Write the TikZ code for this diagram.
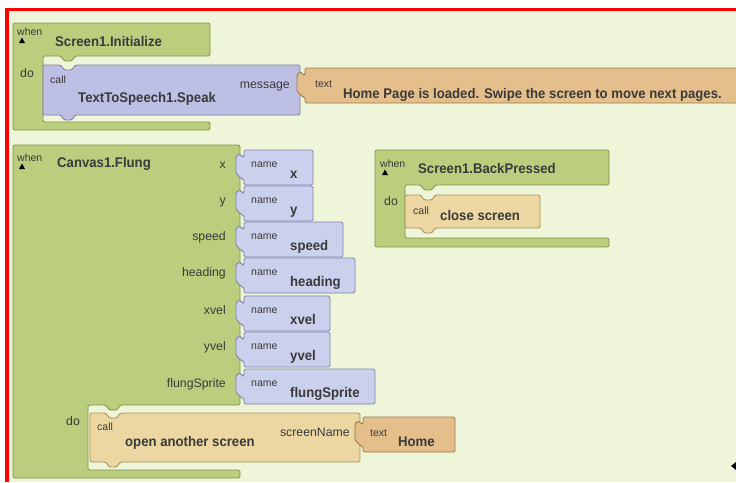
\documentclass[tikz,border=0pt]{standalone}
\usepackage{fontspec}
\setmainfont{Liberation Sans}
\newfontfamily\blkfont{Liberation Sans}[FakeStretch=0.94]
\definecolor{bgc}{HTML}{EEF5D8}
\definecolor{evt}{HTML}{BACE7E}
\definecolor{evtd}{HTML}{7E9646}
\definecolor{meth}{HTML}{BEBFE4}
\definecolor{methd}{HTML}{7D7EA6}
\definecolor{nam}{HTML}{CBD0EC}
\definecolor{namd}{HTML}{7F84A6}
\definecolor{txt}{HTML}{E4BF8C}
\definecolor{txtd}{HTML}{9C7A48}
\definecolor{ctl}{HTML}{ECD7A2}
\definecolor{ctld}{HTML}{A6915A}
\definecolor{ink}{HTML}{3A3A3A}
\newcommand\valpath[4]{(#1,#2) -- (#3,#2) -- (#3,#4) -- (#1,#4) -- (#1,{#2+29}) .. controls ({#1-4},{#2+29}) and ({#1-4},{#2+26}) .. ({#1-8},{#2+24}) -- ({#1-8},{#2+10}) .. controls ({#1-8},{#2+5}) and ({#1-4},{#2+3}) .. ({#1-2},{#2+7}) -- (#1,{#2+7}) -- cycle}
\newcommand\stmtpath[5]{(#1,#2) -- (#5,#2) -- ({#5+3},{#2+5}) -- ({#5+11},{#2+5}) -- ({#5+14},#2) -- (#3,#2) -- (#3,#4) -- ({#5+14},#4) -- ({#5+11},{#4+5}) -- ({#5+3},{#4+5}) -- (#5,#4) -- (#1,#4) -- cycle}
\tikzset{
  blk/.style={line width=0.9pt, rounded corners=1.5pt, line join=round},
  small/.style={font=\fontsize{10.5}{11}\selectfont, text=ink, inner sep=0pt},
  lbl/.style={font=\fontsize{12.3}{13}\selectfont, text=ink, inner sep=0pt},
  big/.style={font=\blkfont\bfseries\fontsize{14}{15}\selectfont, text=ink, inner sep=0pt},
  tri/.style={fill=black}
}
\begin{document}
\begin{tikzpicture}[x=1pt,y=-1pt]
\useasboundingbox (0,0) rectangle (736,482);
\fill[white] (0,0) rectangle (736,482);
\fill[bgc] (9,11) rectangle (736,482);
\fill[red] (5,8) rectangle (736,11);
\fill[red] (5,8) rectangle (9,482);

% ---------- Screen1.Initialize ----------
\filldraw[blk, fill=evt, draw=evtd] (13,23) -- (210,23) -- (210,56) -- (75,56) -- (72,61) -- (64,61) -- (61,56) -- (43,56) -- (43,122) -- (210,122) -- (210,130) -- (13,130) -- cycle;
\node[small, anchor=base west] (w1) at (17,35) {when};
\fill[tri] (19,43) -- (22,37.5) -- (25,43) -- cycle;
\node[big, anchor=base west] (e1) at (55,46) {Screen1.Initialize};
\node[lbl, anchor=base west] (d1) at (20,77) {do};
\filldraw[blk, fill=meth, draw=methd] \stmtpath{43}{65}{300}{115}{61};
\node[small, anchor=base west] (c1) at (50,83) {call};
\node[big, anchor=base west] (m1) at (78,102) {TextToSpeech1.Speak};
\node[lbl, anchor=base east] (a1) at (290,88) {message};
\filldraw[blk, fill=txt, draw=txtd] \valpath{305}{68}{738}{103};
\node[small, anchor=base west] (t1) at (315,87) {text};
\node[big, anchor=base west] (v1) at (343,98) {Home Page is loaded. Swipe the screen to move next pages.};

% ---------- Canvas1.Flung ----------
\filldraw[blk, fill=evt, draw=evtd] (13,145) -- (240,145) -- (240,405) -- (120,405) -- (117,410) -- (109,410) -- (106,405) -- (88,405) -- (88,470) -- (240,470) -- (240,478) -- (13,478) -- cycle;
\node[small, anchor=base west] (w2) at (17,161) {when};
\fill[tri] (19,169) -- (22,163.5) -- (25,169) -- cycle;
\node[big, anchor=base west] (e2) at (57,167) {Canvas1.Flung};

\foreach \nm/\yy/\xr/\val in {px/150/313/x, py/186/313/y, psp/222/343/speed, phd/258/355/heading, pxv/296/330/xvel, pyv/332/330/yvel, pfs/369/375/flungSprite}{
  \filldraw[blk, fill=nam, draw=namd] \valpath{244}{\yy}{\xr}{\yy+35};
  \node[lbl, anchor=base east] (l\nm) at (226,\yy+18) {\val};
  \node[small, anchor=base west] (n\nm) at (251,\yy+17) {name};
  \node[big, anchor=base west] (v\nm) at (290,\yy+28) {\val};
}

\node[lbl, anchor=base west] (d2) at (66,425) {do};
\filldraw[blk, fill=ctl, draw=ctld] \stmtpath{90}{413}{360}{462}{106};
\node[small, anchor=base west] (c2) at (97,430) {call};
\node[big, anchor=base west] (m2) at (125,446) {open another screen};
\node[lbl, anchor=base east] (a2) at (350,436) {screenName};
\filldraw[blk, fill=txt, draw=txtd] \valpath{363}{417}{455}{452};
\node[small, anchor=base west] (t2) at (370,436) {text};
\node[big, anchor=base west] (v2) at (398,446) {Home};

% ---------- Screen1.BackPressed ----------
\filldraw[blk, fill=evt, draw=evtd] (375,150) -- (609,150) -- (609,185) -- (435,185) -- (432,190) -- (424,190) -- (421,185) -- (405,185) -- (405,238) -- (609,238) -- (609,247) -- (375,247) -- cycle;
\node[small, anchor=base west] (w3) at (380,167) {when};
\fill[tri] (382,175) -- (385,169.5) -- (388,175) -- cycle;
\node[big, anchor=base west] (e3) at (418,173) {Screen1.BackPressed};
\node[lbl, anchor=base west] (d3) at (384,205) {do};
\filldraw[blk, fill=ctl, draw=ctld] \stmtpath{405}{195}{540}{228}{421};
\node[small, anchor=base west] (c3) at (413,214) {call};
\node[big, anchor=base west] (m3) at (440,220) {close screen};

% small pointer mark
\fill[black] (731,466) -- (736,462) -- (736,470) -- cycle;
\end{tikzpicture}
\end{document}
